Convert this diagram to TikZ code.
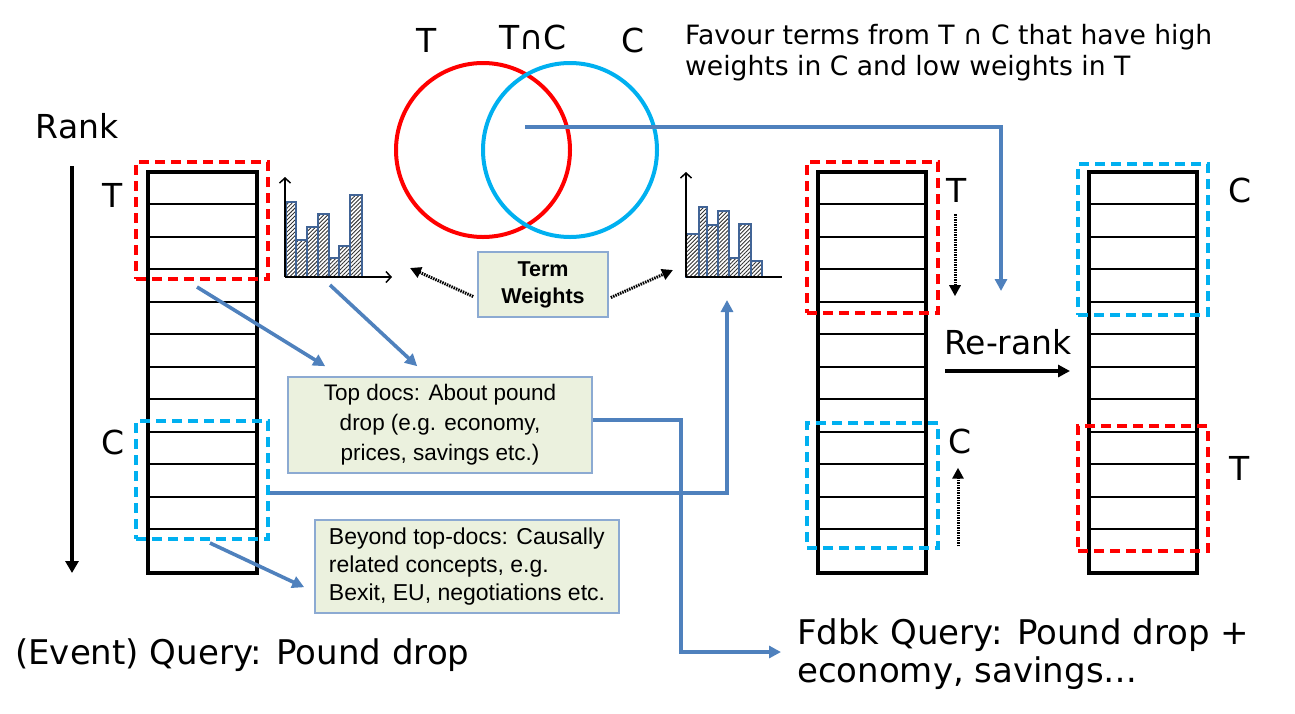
\documentclass[tikz,border=0pt]{standalone}
\usepackage{fontspec}
\setmainfont{DejaVu Sans}
\newfontfamily\arialf{Liberation Sans}
\usetikzlibrary{arrows.meta,patterns.meta}
\definecolor{tred}{RGB}{255,0,0}
\definecolor{tcyan}{RGB}{0,176,240}
\definecolor{steel}{RGB}{79,129,189}
\definecolor{boxfill}{RGB}{235,241,222}
\definecolor{boxline}{RGB}{140,170,210}
\definecolor{barline}{RGB}{65,100,150}
\tikzset{
 listbox/.style={draw=black, line width=4pt, minimum width=108pt, minimum height=401pt, inner sep=0pt},
 rowline/.style={line width=1.8pt},
 redbox/.style={draw=tred, line width=4pt, dash pattern=on 10pt off 6pt, inner sep=0pt},
 bluebox/.style={redbox, draw=tcyan},
 greenbox/.style={draw=boxline, line width=1.6pt, fill=boxfill, inner sep=0pt, align=center, font=\arialf\fontsize{22.5}{30}\selectfont},
 blarrow/.style={draw=steel, line width=3.6pt, -{Triangle[length=12pt,width=12pt]}},
 dotarrow/.style={draw=black, line width=3pt, dash pattern=on 1.5pt off 1pt, -{Triangle[length=11pt,width=11pt]}},
 biglbl/.style={font=\fontsize{33}{40}\selectfont, inner sep=0pt},
 bar/.style={draw=barline, line width=1.8pt, pattern={Lines[angle=45,distance=2.8pt,line width=0.9pt]}, pattern color=black!80},
 axisarrow/.style={line width=1.5pt, -{Straight Barb[length=5pt,width=11pt]}},
 venn/.style={circle, line width=4pt, minimum size=174pt, inner sep=0pt}
}
\begin{document}
\begin{tikzpicture}[x=1pt,y=-1pt]
\useasboundingbox (0,0) rectangle (1295,713);

% Venn
\node[venn, draw=tred] (vT) at (483,150) {};
\node[venn, draw=tcyan] (vC) at (570,150) {};
\node[biglbl] (lvT) at (427,40) {T};
\node[biglbl] (lvTC) at (533,37) {T∩C};
\node[biglbl] (lvC) at (633,40) {C};
\node[anchor=north west, inner sep=0pt, align=left, font=\fontsize{26.6}{31}\selectfont] (fav) at (685,24)
  {Favour terms from T ∩ C that have high\\weights in C and low weights in T};

% Rank
\node[biglbl] (rank) at (77,126) {Rank};
\coordinate (rk1) at (72,166);
\coordinate (rk2) at (72,573);
\draw[line width=3.6pt, -{Triangle[length=12pt,width=13pt]}] (rk1) -- (rk2);

% lists
\node[listbox, minimum width=109pt] (L1) at (202.5,372.5) {};
\node[listbox] (L2) at (872,372.5) {};
\node[listbox] (L3) at (1143,372.5) {};
\foreach \y in {204,237,269,302,334,367,399,432,464,497,529}{
  \draw[rowline] (L1.west |- 0,\y) -- (L1.east |- 0,\y);
  \draw[rowline] (L2.west |- 0,\y) -- (L2.east |- 0,\y);
  \draw[rowline] (L3.west |- 0,\y) -- (L3.east |- 0,\y);
}

% dashed boxes
\node[redbox, minimum width=132pt, minimum height=117pt] (Lt) at (202,220.5) {};
\node[bluebox, minimum width=132pt, minimum height=118pt] (Lc) at (202,480) {};
\node[redbox, minimum width=131pt, minimum height=151pt] (Mt) at (872.5,237.5) {};
\node[bluebox, minimum width=131pt, minimum height=125pt] (Mc) at (872.5,485.5) {};
\node[bluebox, minimum width=130pt, minimum height=151pt] (Rc) at (1143,239.5) {};
\node[redbox, minimum width=130pt, minimum height=125pt] (Rt) at (1143,488.5) {};

% list labels
\node[biglbl] (lT1) at (113,195) {T};
\node[biglbl] (lC1) at (113,442) {C};
\node[biglbl] (lT2) at (957,190) {T};
\node[biglbl] (lC2) at (960,441) {C};
\node[biglbl] (lC3) at (1240,190) {C};
\node[biglbl] (lT3) at (1240,468) {T};

% histogram 1
\foreach \a/\b/\t in {286/296/202,296/307/240,307/318/227,318/329/214,329/339/258,339/350/246,350/362/195}{
  \fill[white] (\a,277) rectangle (\b,\t);
  \draw[bar] (\a,277) rectangle (\b,\t);
}
\coordinate (h1o) at (285,277);
\draw[axisarrow] (h1o) -- (285,177);
\draw[axisarrow] (h1o) -- (392,277);
% histogram 2
\foreach \a/\b/\t in {686/707/234,699/707/207,707/718/225,718/729/211,729/739/258,739/751/224,751/762/261}{
  \fill[white] (\a,277) rectangle (\b,\t);
  \draw[bar] (\a,277) rectangle (\b,\t);
}
\coordinate (h2o) at (686,277);
\draw[axisarrow] (h2o) -- (686,172);
\draw[line width=1.5pt] (h2o) -- (782,277);

% green boxes
\node[greenbox, minimum width=130pt, minimum height=65pt, font=\arialf\bfseries\fontsize{21.5}{27}\selectfont] (tw) at (543,284.5) {Term\\Weights};
\node[greenbox, minimum width=304pt, minimum height=96pt] (td) at (440,425) {Top docs: About pound\\drop (e.g. economy,\\prices, savings etc.)};
\node[greenbox, align=left, minimum width=304pt, minimum height=93pt, font=\arialf\fontsize{23}{28}\selectfont] (bt) at (467,566.5) {Beyond top-docs: Causally\\related concepts, e.g.\\Bexit, EU, negotiations etc.};

% bottom texts
\node[biglbl, anchor=west, font=\fontsize{34}{40}\selectfont] (evq) at (15,655) {(Event) Query: Pound drop};
\node[biglbl, anchor=north west, align=left, font=\fontsize{34}{38}\selectfont] (fq) at (797,618) {Fdbk Query: Pound drop +\\economy, savings…};
\node[biglbl] (rr) at (1008,342) {Re-rank};

% free ends
\coordinate (h1p) at (330,285);
\coordinate (twL) at (410,268);
\coordinate (twR) at (673,270);
\coordinate (h2in) at (727,300);
\coordinate (fqin) at (781,652);
\coordinate (tc) at (525,127);
\coordinate (rrin) at (1001,291);

% blue connectors
\draw[blarrow] ([shift={(-5,6)}]Lt.south) -- ([shift={(38,-10)}]td.north west);
\draw[blarrow] (h1p) -- ([shift={(130,-10)}]td.north west);
\draw[blarrow] ([shift={(0,-5)}]td.east) -- ++(88,0) |- (fqin);
\draw[blarrow] ([shift={(0,13)}]Lc.east) -| (h2in);
\draw[blarrow] ([shift={(8,2)}]Lc.south) -- ([shift={(-10,68)}]bt.north west);
\draw[blarrow] (tc) -| (rrin);

% dotted arrows
\draw[dotarrow] ([shift={(-4,12)}]tw.west) -- (twL);
\draw[dotarrow] ([shift={(2,13)}]tw.east) -- (twR);
\draw[dotarrow] ([shift={(-2,12)}]lT2.south) -- ([shift={(-2,94)}]lT2.south);
\draw[dotarrow] ([shift={(-2,118)}]lC2.north) -- ([shift={(-2,14)}]lC2.south);

% re-rank arrow
\draw[line width=3.4pt, -{Triangle[length=12pt,width=12pt]}] ([shift={(17,-1.5)}]L2.east) -- ([shift={(-17,-1.5)}]L3.west);
\end{tikzpicture}
\end{document}
